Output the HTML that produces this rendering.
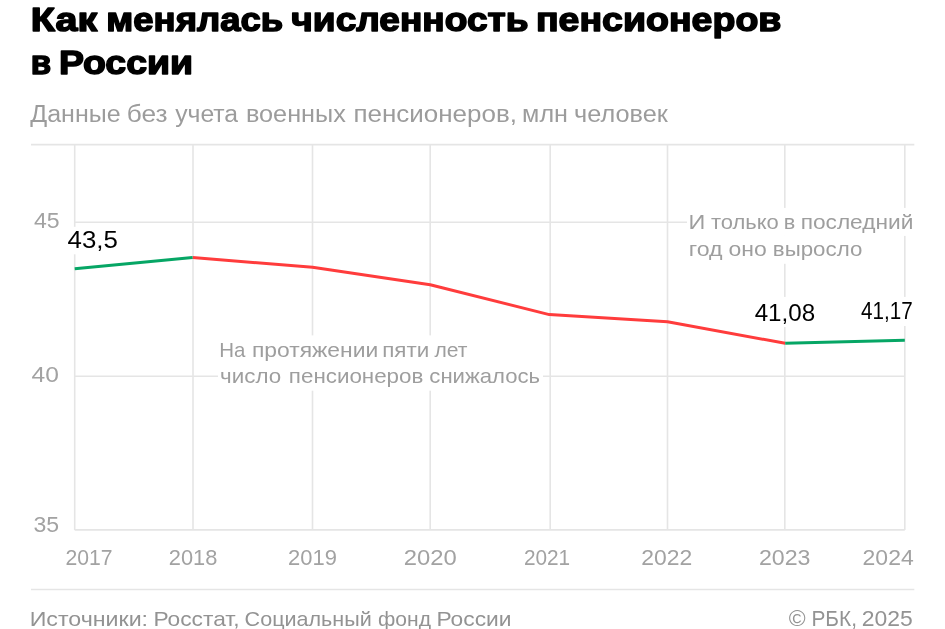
<!DOCTYPE html>
<html lang="ru">
<head>
<meta charset="utf-8">
<title>Как менялась численность пенсионеров в России</title>
<style>
html,body{margin:0;padding:0;background:#fff;}
body{width:945px;height:629px;overflow:hidden;font-family:"Liberation Sans",sans-serif;}
svg{display:block;}
text{font-family:"Liberation Sans",sans-serif;white-space:pre;}
.title{font-weight:700;font-size:33.8px;fill:#000;stroke:#000;stroke-width:1.5px;stroke-linejoin:round;}
.sub{font-size:23.1px;fill:#9c9c9c;}
.tick{font-size:22.3px;fill:#a2a2a2;}
.note{font-size:20.7px;fill:#9e9e9e;}
.val{font-size:23.5px;fill:#000;}
.foot{font-size:20.6px;fill:#939393;}
.foot2{font-size:22.4px;fill:#939393;}
.grid line{stroke:#e5e5e5;stroke-width:1.6;}
</style>
</head>
<body>
<svg width="945" height="629" viewBox="0 0 945 629">
<rect width="945" height="629" fill="#fff"/>
<g class="grid">
<line x1="31" y1="144.6" x2="914.3" y2="144.6"/>
<line x1="74.7" y1="144.6" x2="74.7" y2="529.9"/>
<line x1="193.0" y1="144.6" x2="193.0" y2="529.9"/>
<line x1="312.5" y1="144.6" x2="312.5" y2="529.9"/>
<line x1="430.2" y1="144.6" x2="430.2" y2="529.9"/>
<line x1="550.2" y1="144.6" x2="550.2" y2="529.9"/>
<line x1="667.5" y1="144.6" x2="667.5" y2="529.9"/>
<line x1="784.8" y1="144.6" x2="784.8" y2="529.9"/>
<line x1="904.8" y1="144.6" x2="904.8" y2="529.9"/>
<line x1="74.7" y1="222.2" x2="904.8" y2="222.2"/>
<line x1="74.7" y1="376.2" x2="904.8" y2="376.2"/>
<line x1="74.7" y1="529.9" x2="904.8" y2="529.9"/>
<line x1="31" y1="589.5" x2="914.3" y2="589.5"/>
</g>
<g fill="#fff">
<rect x="66" y="226.8" width="53" height="27.5"/>
<rect x="218" y="335.4" width="252" height="28"/>
<rect x="218" y="363" width="325" height="27.7"/>
<rect x="687" y="207.9" width="228" height="28"/>
<rect x="687" y="235.5" width="178" height="28.3"/>
<rect x="752" y="296.9" width="65" height="30.2"/>
<rect x="858" y="296.9" width="57" height="29.1"/>
</g>
<g fill="none" stroke-width="3" stroke-linejoin="round" stroke-linecap="butt">
<path d="M192.6,257.5 L312.5,267.3 L430.2,284.8 L549.3,314.6 L667.5,321.7 L785.2,343.3" stroke="#ff3c3c"/>
<path d="M74.7,268.7 L192.6,257.5" stroke="#06a665"/>
<path d="M785.2,343.3 L904.8,340.3" stroke="#06a665"/>
</g>
<text class="title"><tspan x="30.75" y="31.25" textLength="66.45" lengthAdjust="spacingAndGlyphs">Как</tspan> <tspan x="106.30" y="31.25" textLength="176.90" lengthAdjust="spacingAndGlyphs">менялась</tspan> <tspan x="291.30" y="31.25" textLength="237.25" lengthAdjust="spacingAndGlyphs">численность</tspan> <tspan x="535.95" y="31.25" textLength="245.45" lengthAdjust="spacingAndGlyphs">пенсионеров</tspan></text>
<text class="title"><tspan x="30.65" y="74.10" textLength="20.40" lengthAdjust="spacingAndGlyphs">в</tspan> <tspan x="58.95" y="74.10" textLength="134.15" lengthAdjust="spacingAndGlyphs">России</tspan></text>
<text class="sub"><tspan x="30.25" y="121.50" textLength="90.30" lengthAdjust="spacingAndGlyphs">Данные</tspan> <tspan x="126.85" y="121.50" textLength="40.80" lengthAdjust="spacingAndGlyphs">без</tspan> <tspan x="175.15" y="121.50" textLength="63.00" lengthAdjust="spacingAndGlyphs">учета</tspan> <tspan x="245.90" y="121.50" textLength="99.95" lengthAdjust="spacingAndGlyphs">военных</tspan> <tspan x="353.45" y="121.50" textLength="163.55" lengthAdjust="spacingAndGlyphs">пенсионеров,</tspan> <tspan x="522.10" y="121.50" textLength="45.85" lengthAdjust="spacingAndGlyphs">млн</tspan> <tspan x="574.00" y="121.50" textLength="93.80" lengthAdjust="spacingAndGlyphs">человек</tspan></text>
<text class="tick" x="34.00" y="228.30" textLength="25.65" lengthAdjust="spacingAndGlyphs">45</text>
<text class="tick" x="31.50" y="381.90" textLength="27.35" lengthAdjust="spacingAndGlyphs">40</text>
<text class="tick" x="33.55" y="531.50" textLength="25.65" lengthAdjust="spacingAndGlyphs">35</text>
<text class="val" x="67.60" y="248.30" textLength="50.30" lengthAdjust="spacingAndGlyphs">43,5</text>
<text class="val" x="754.65" y="321.00" textLength="60.50" lengthAdjust="spacingAndGlyphs">41,08</text>
<text class="val" x="861.00" y="319.30" textLength="51.65" lengthAdjust="spacingAndGlyphs">41,17</text>
<text class="note"><tspan x="219.30" y="356.50" textLength="26.20" lengthAdjust="spacingAndGlyphs">На</tspan> <tspan x="251.95" y="356.50" textLength="126.25" lengthAdjust="spacingAndGlyphs">протяжении</tspan> <tspan x="382.15" y="356.50" textLength="47.00" lengthAdjust="spacingAndGlyphs">пяти</tspan> <tspan x="434.50" y="356.50" textLength="33.00" lengthAdjust="spacingAndGlyphs">лет</tspan></text>
<text class="note"><tspan x="220.05" y="383.40" textLength="61.10" lengthAdjust="spacingAndGlyphs">число</tspan> <tspan x="288.85" y="383.40" textLength="134.50" lengthAdjust="spacingAndGlyphs">пенсионеров</tspan> <tspan x="429.35" y="383.40" textLength="110.80" lengthAdjust="spacingAndGlyphs">снижалось</tspan></text>
<text class="note"><tspan x="688.55" y="228.70" textLength="16.80" lengthAdjust="spacingAndGlyphs">И</tspan> <tspan x="710.90" y="228.70" textLength="67.95" lengthAdjust="spacingAndGlyphs">только</tspan> <tspan x="783.65" y="228.70" textLength="11.50" lengthAdjust="spacingAndGlyphs">в</tspan> <tspan x="800.65" y="228.70" textLength="112.70" lengthAdjust="spacingAndGlyphs">последний</tspan></text>
<text class="note"><tspan x="688.80" y="255.60" textLength="33.80" lengthAdjust="spacingAndGlyphs">год</tspan> <tspan x="728.55" y="255.60" textLength="38.25" lengthAdjust="spacingAndGlyphs">оно</tspan> <tspan x="772.80" y="255.60" textLength="89.55" lengthAdjust="spacingAndGlyphs">выросло</tspan></text>
<text class="tick" x="65.45" y="565.00" textLength="47.10" lengthAdjust="spacingAndGlyphs">2017</text>
<text class="tick" x="168.80" y="565.00" textLength="48.55" lengthAdjust="spacingAndGlyphs">2018</text>
<text class="tick" x="288.00" y="565.00" textLength="48.85" lengthAdjust="spacingAndGlyphs">2019</text>
<text class="tick" x="403.80" y="565.00" textLength="53.00" lengthAdjust="spacingAndGlyphs">2020</text>
<text class="tick" x="523.95" y="565.00" textLength="46.25" lengthAdjust="spacingAndGlyphs">2021</text>
<text class="tick" x="641.30" y="565.00" textLength="50.95" lengthAdjust="spacingAndGlyphs">2022</text>
<text class="tick" x="758.95" y="565.00" textLength="51.55" lengthAdjust="spacingAndGlyphs">2023</text>
<text class="tick" x="862.60" y="565.00" textLength="51.10" lengthAdjust="spacingAndGlyphs">2024</text>
<text class="foot"><tspan x="29.70" y="625.50" textLength="118.35" lengthAdjust="spacingAndGlyphs">Источники:</tspan> <tspan x="153.40" y="625.50" textLength="86.15" lengthAdjust="spacingAndGlyphs">Росстат,</tspan> <tspan x="244.60" y="625.50" textLength="127.20" lengthAdjust="spacingAndGlyphs">Социальный</tspan> <tspan x="378.05" y="625.50" textLength="52.95" lengthAdjust="spacingAndGlyphs">фонд</tspan> <tspan x="436.40" y="625.50" textLength="75.15" lengthAdjust="spacingAndGlyphs">России</tspan></text>
<text class="foot2"><tspan x="788.70" y="625.60" textLength="16.90" lengthAdjust="spacingAndGlyphs">©</tspan> <tspan x="811.40" y="625.60" textLength="45.55" lengthAdjust="spacingAndGlyphs">РБК,</tspan> <tspan x="861.80" y="625.60" textLength="51.05" lengthAdjust="spacingAndGlyphs">2025</tspan></text>
</svg>
</body>
</html>
